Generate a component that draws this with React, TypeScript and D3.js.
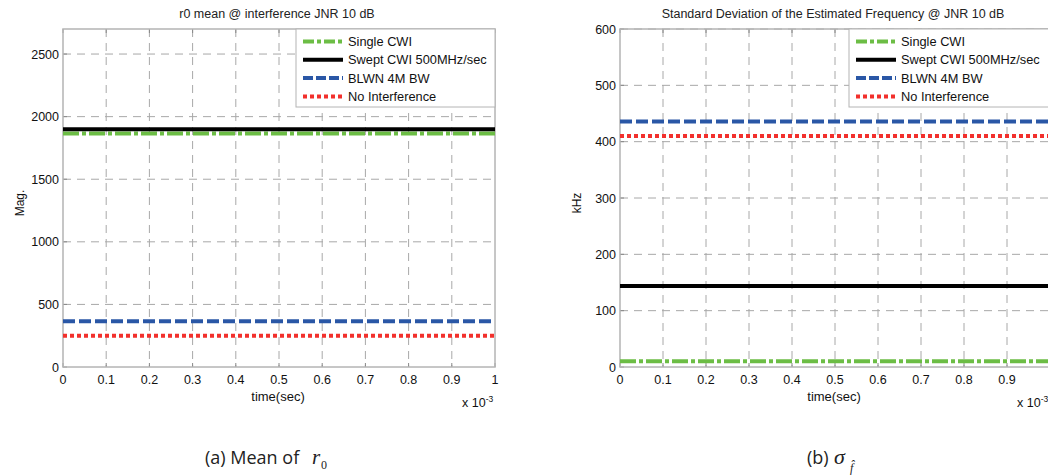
import React from 'react';
import * as d3 from 'd3';

// series names, in legend order
const seriesNames = ['Single CWI', 'Swept CWI 500MHz/sec', 'BLWN 4M BW', 'No Interference'];
const timeTicks = [0, 0.1, 0.2, 0.3, 0.4, 0.5, 0.6, 0.7, 0.8, 0.9, 1];

// (a) r0 mean, magnitude
const r0Ticks = [0, 500, 1000, 1500, 2000, 2500];
const r0Values = [1865, 1900, 365, 250];

// (b) std of estimated frequency, kHz
const sigmaTicks = [0, 100, 200, 300, 400, 500, 600];
const sigmaValues = [10, 144, 436, 410];

const styles = [
  { color: '#6cbd45', dash: '16,3,4,3', legDash: '11,3,4,3' },
  { color: '#000000', dash: null, legDash: null },
  { color: '#2a57a6', dash: '12,4', legDash: '10,3' },
  { color: '#f2302c', dash: '4,3', legDash: '4,3' },
];

const W = 1048;
const font = 'Liberation Sans, Arial, sans-serif';

type PanelProps = {
  left: number; right: number; top: number; bottom: number;
  ymax: number; yTicks: number[]; values: number[];
  title: string; ylabel: string; legendX: number;
};

const Panel = ({ left, right, top, bottom, ymax, yTicks, values, title, ylabel, legendX }: PanelProps) => {
  const x = d3.scaleLinear().domain([0, 1]).range([left, right]);
  const y = d3.scaleLinear().domain([0, ymax]).range([bottom, top]);
  const line = d3.line<number>().x(d => d).y(0);
  return (
    <g>
      <text x={(left + right) / 2 - 2} y={top - 11} fontSize={12.5} textAnchor="middle" fill="#222" fontFamily={font}>{title}</text>
      {/* grid */}
      {timeTicks.slice(1, -1).map(t => (
        <line key={'gx' + t} x1={x(t)} x2={x(t)} y1={top} y2={bottom} stroke="#a8a8a8" strokeDasharray="8,6" strokeWidth={1} />
      ))}
      {yTicks.filter(v => v > 0).map(v => (
        <line key={'gy' + v} x1={left} x2={right} y1={y(v)} y2={y(v)} stroke="#a8a8a8" strokeDasharray="8,6" strokeWidth={1} />
      ))}
      {/* ticks */}
      {timeTicks.map(t => (
        <g key={'tx' + t}>
          <line x1={x(t)} x2={x(t)} y1={bottom} y2={bottom - 4} stroke="#888" />
          <line x1={x(t)} x2={x(t)} y1={top} y2={top + 4} stroke="#888" />
          {x(t) < W - 4 && (
            <text x={x(t)} y={bottom + 17} fontSize={12.5} textAnchor="middle" fill="#111" fontFamily={font}>{t}</text>
          )}
        </g>
      ))}
      {yTicks.map(v => (
        <g key={'ty' + v}>
          <line x1={left} x2={left + 4} y1={y(v)} y2={y(v)} stroke="#888" />
          <text x={left - 4} y={y(v) + 4.5} fontSize={12.5} textAnchor="end" fill="#111" fontFamily={font}>{v}</text>
        </g>
      ))}
      <rect x={left} y={top} width={right - left} height={bottom - top} fill="none" stroke="#b4b4b4" strokeWidth={1.5} />
      {/* series */}
      {values.map((v, i) => (
        <path key={'s' + i} d={line([left, right]) || ''} transform={`translate(0,${y(v)})`}
          stroke={styles[i].color} strokeWidth={4} fill="none"
          strokeDasharray={styles[i].dash || undefined} />
      ))}
      {/* legend */}
      <rect x={legendX} y={top} width={right - legendX} height={78} fill="#fff" stroke="#b4b4b4" strokeWidth={1} />
      {seriesNames.map((n, i) => {
        const ly = top + 12.5 + i * 18.3;
        return (
          <g key={'l' + i}>
            <line x1={legendX + 7} x2={legendX + 47} y1={ly} y2={ly} stroke={styles[i].color} strokeWidth={4}
              strokeDasharray={styles[i].legDash || undefined} />
            <text x={legendX + 52} y={ly + 4.5} fontSize={12.8} fill="#111" fontFamily={font}>{n}</text>
          </g>
        );
      })}
      {/* labels */}
      <text x={(left + right) / 2 - 1} y={bottom + 34} fontSize={13} textAnchor="middle" fill="#111" fontFamily={font}>time(sec)</text>
      <text x={right - 33} y={bottom + 40} fontSize={12.5} fill="#111" fontFamily={font}>x 10<tspan dy={-5} fontSize={8.5}>-3</tspan></text>
      <text transform={`translate(${left - 39},${(top + bottom) / 2 + 5}) rotate(-90)`} fontSize={12} textAnchor="middle" fill="#111" fontFamily={font}>{ylabel}</text>
    </g>
  );
};

const App = () => {
  return (
    <svg width={W} height={476} style={{ position: 'absolute', left: 0, top: 0, background: '#fff' }}>
      <rect width={W} height={476} fill="#fff" />
      <Panel left={63} right={495} top={29} bottom={367} ymax={2700} yTicks={r0Ticks} values={r0Values}
        title="r0 mean @ interference JNR 10 dB" ylabel="Mag." legendX={296} />
      <Panel left={620} right={1050} top={29} bottom={367} ymax={600} yTicks={sigmaTicks} values={sigmaValues}
        title="Standard Deviation of the Estimated Frequency @ JNR 10 dB" ylabel="kHz" legendX={849} />
      <text x={205} y={464} fontSize={18} fill="#222" fontFamily="Open Sans, sans-serif">(a) Mean of </text>
      <text x={312} y={464} fontSize={21} fill="#222" fontFamily="Liberation Serif, serif" fontStyle="italic">r</text>
      <text x={321} y={469} fontSize={12} fill="#222" fontFamily="Liberation Serif, serif">0</text>
      <text x={807} y={464} fontSize={18} fill="#222" fontFamily="Open Sans, sans-serif">(b)</text>
      <text x={834} y={464} fontSize={22} fill="#222" fontFamily="Liberation Serif, serif" fontStyle="italic">σ</text>
      <text x={850} y={472} fontSize={12} fill="#222" fontFamily="Liberation Serif, serif" fontStyle="italic">f̂</text>
    </svg>
  );
};

export default App;
